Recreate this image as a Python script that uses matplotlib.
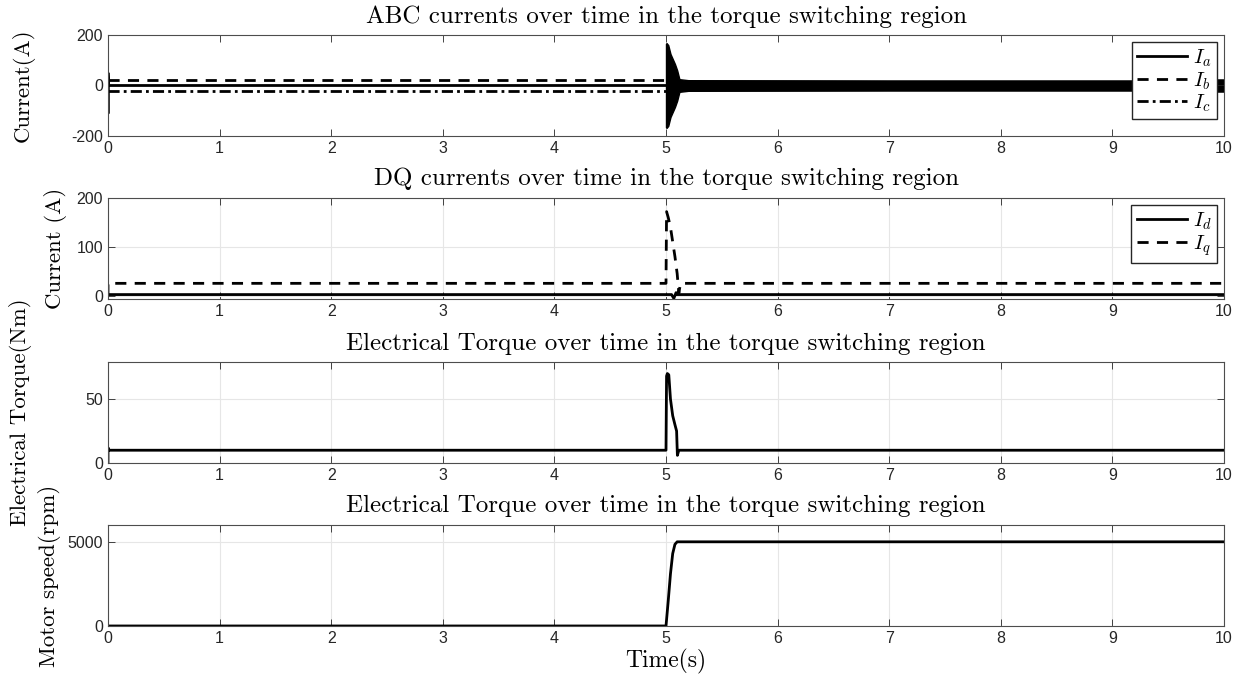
import matplotlib
matplotlib.use("Agg")
import matplotlib.pyplot as plt

plt.rcParams["font.family"] = "serif"
plt.rcParams["font.serif"] = ["cmr10"]
plt.rcParams["mathtext.fontset"] = "cm"
plt.rcParams["axes.formatter.use_mathtext"] = False
plt.rcParams["axes.unicode_minus"] = False

# ABC currents (A)
t_abc = [0, 0, 0, 0.005, 5.0]
ia = [0, -110, 50, 0, 0]
t_bc = [0, 5.0]
ib = [20, 20]
ic = [-20, -20]
# envelope of the fast oscillation after the switch
t_env = [5.0, 5.005, 5.02, 5.04, 5.06, 5.08, 5.1, 5.12, 5.2, 7.0, 9.2, 9.25, 10.0]
env_hi = [165, 168, 160, 125, 105, 85, 60, 25, 21, 20, 20, 24, 24]
env_lo = [-165, -168, -160, -125, -105, -85, -60, -25, -21, -20, -20, -24, -24]

# DQ currents (A)
t_dq = [0, 0, 0.01, 5.0, 5.005, 5.02, 5.04, 5.06, 5.08, 5.1, 5.115, 5.13, 10.0]
iq = [0, 25, 25, 25, 172, 160, 140, 110, 80, 45, 5, 25, 25]
t_d = [0, 5.0, 5.05, 5.07, 5.09, 5.1, 10.0]
id_ = [2, 2, 2, -6, 6, 2, 2]

# Electrical torque (Nm)
t_te = [0, 0, 0.01, 5.0, 5.005, 5.012, 5.025, 5.04, 5.06, 5.08, 5.095, 5.102, 5.115, 10.0]
te = [0, 12, 10, 10, 68, 70, 69, 50, 37, 30, 25, 6, 10, 10]

# Motor speed (rpm)
t_w = [0, 5.0, 5.02, 5.04, 5.06, 5.08, 5.1, 10.0]
w = [0, 0, 1500, 3100, 4300, 4850, 5000, 5000]

titles = ["ABC currents over time in the torque switching region",
          "DQ currents over time in the torque switching region",
          "Electrical Torque over time in the torque switching region",
          "Electrical Torque over time in the torque switching region"]
ylabels = ["Current(A)", "Current (A)", "Electrical Torque(Nm)", "Motor speed(rpm)"]
label_x = [-0.066, -0.037, -0.068, -0.042]
ylims = [(-200, 200), (-7, 200), (0, 79), (0, 6000)]
yticks = [[-200, 0, 200], [0, 100, 200], [0, 50], [0, 5000]]
bottoms = [0.8003, 0.561, 0.3201, 0.0808]

fig = plt.figure(figsize=(12.4, 6.81), dpi=100)
axes = []
for i in range(4):
    ax = fig.add_axes([0.0871, bottoms[i], 0.9, 0.1483])
    axes.append(ax)
    ax.set_xlim(0, 10)
    ax.set_ylim(*ylims[i])
    ax.set_xticks(range(0, 11))
    ax.set_yticks(yticks[i])
    ax.tick_params(direction="in", top=True, right=True, length=5, width=0.6,
                   colors="#262626", labelsize=11.5)
    for lab in ax.get_xticklabels() + ax.get_yticklabels():
        lab.set_fontfamily("Liberation Sans")
    for s in ax.spines.values():
        s.set_color("#4d4d4d")
        s.set_linewidth(0.8)
    if i > 0:
        ax.grid(True, color="#e6e6e6", linewidth=0.8)
        ax.set_axisbelow(True)
    ax.set_title(titles[i], fontsize=18, pad=9)
    ax.set_ylabel(ylabels[i], fontsize=16.5)
    ax.yaxis.set_label_coords(label_x[i], 0.5)

legend_kw = dict(loc="upper right", fontsize=15, frameon=True, fancybox=False,
                 edgecolor="#262626", framealpha=1, borderpad=0.25,
                 labelspacing=0.05, handlelength=2.4, handletextpad=0.3,
                 borderaxespad=0.35)

ax = axes[0]
ax.plot(t_abc, ia, color="black", lw=2, label="$I_a$")
ax.plot(t_bc, ib, color="black", lw=2, ls=(0, (4, 3)), label="$I_b$")
ax.plot(t_bc, ic, color="black", lw=2, ls=(0, (4, 1.5, 1, 1.5)), label="$I_c$")
ax.fill_between(t_env, env_lo, env_hi, color="black", lw=1)
ax.legend(**legend_kw)

ax = axes[1]
ax.plot(t_d, id_, color="black", lw=2, label="$I_d$")
ax.plot(t_dq, iq, color="black", lw=2, ls=(0, (4, 3)), label="$I_q$")
ax.legend(**legend_kw)

axes[2].plot(t_te, te, color="black", lw=2)
axes[3].plot(t_w, w, color="black", lw=2)
axes[3].set_xlabel("Time(s)", fontsize=17, labelpad=2)

fig.savefig("out.png", dpi=100)
